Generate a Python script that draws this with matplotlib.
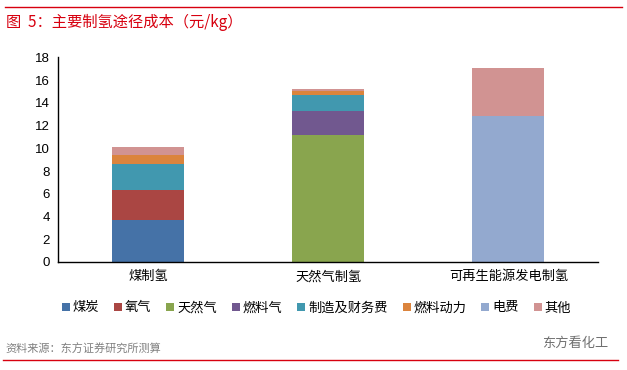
import numpy as np
import matplotlib.pyplot as plt

plt.rcParams['font.family'] = ['Noto Sans CJK SC', 'DejaVu Sans']

# 数据（元/kg）
categories = ['煤制氢', '天然气制氢', '可再生能源发电制氢']
components = ['煤炭', '氧气', '天然气', '燃料气', '制造及财务费', '燃料动力', '电费', '其他']
values = {
    '煤炭':       [3.7, 0.0, 0.0],
    '氧气':       [2.6, 0.0, 0.0],
    '天然气':     [0.0, 11.15, 0.0],
    '燃料气':     [0.0, 2.1, 0.0],
    '制造及财务费': [2.3, 1.4, 0.0],
    '燃料动力':   [0.8, 0.35, 0.0],
    '电费':       [0.0, 0.0, 12.85],
    '其他':       [0.7, 0.2, 4.2],
}
colors = ['#4572A7', '#AA4643', '#89A54E', '#71588F',
          '#4198AF', '#DB843D', '#93A9CF', '#D19392']

fig = plt.figure(figsize=(6.27, 3.70), dpi=100)
ax = fig.add_axes([0.0925, 0.292, 0.862, 0.553])

x = np.arange(len(categories))
bottom = np.zeros(len(categories))
for name, c in zip(components, colors):
    v = np.array(values[name])
    ax.bar(x, v, 0.4, bottom=bottom, color=c, label=name)
    bottom += v

ax.set_xlim(-0.5, 2.5)
ax.set_ylim(0, 18)
ax.set_yticks(range(0, 19, 2))
ax.set_yticklabels([str(t) for t in range(0, 19, 2)], family='Liberation Sans', fontsize=9.5)
ax.set_xticks(x)
ax.set_xticklabels(categories, fontsize=9.5)
ax.tick_params(length=0, pad=6)
for s in ['top', 'right']:
    ax.spines[s].set_visible(False)
ax.spines['left'].set_linewidth(1)
ax.spines['bottom'].set_linewidth(1)

ax.legend(loc='upper center', bbox_to_anchor=(0.478, -0.135), ncol=8, frameon=False,
          fontsize=9.5, handlelength=0.6, handleheight=0.6, handletextpad=0.2,
          columnspacing=1.15)

# 标题、来源与装饰线
fig.add_artist(plt.Line2D([0.008, 0.992], [0.982, 0.982], color='#D7000F', lw=1))
fig.text(0.01, 0.94, '图  5：主要制氢途径成本（元/kg）', color='#D7000F', fontsize=11, va='center')
fig.text(0.008, 0.055, '资料来源：东方证券研究所测算', color='#808080', fontsize=8, va='center')
fig.text(0.97, 0.072, '东方看化工', color='#707070', fontsize=9.5, va='center', ha='right')
fig.add_artist(plt.Line2D([0.005, 0.985], [0.027, 0.027], color='#D7000F', lw=1))

plt.savefig('out.png', dpi=100)
